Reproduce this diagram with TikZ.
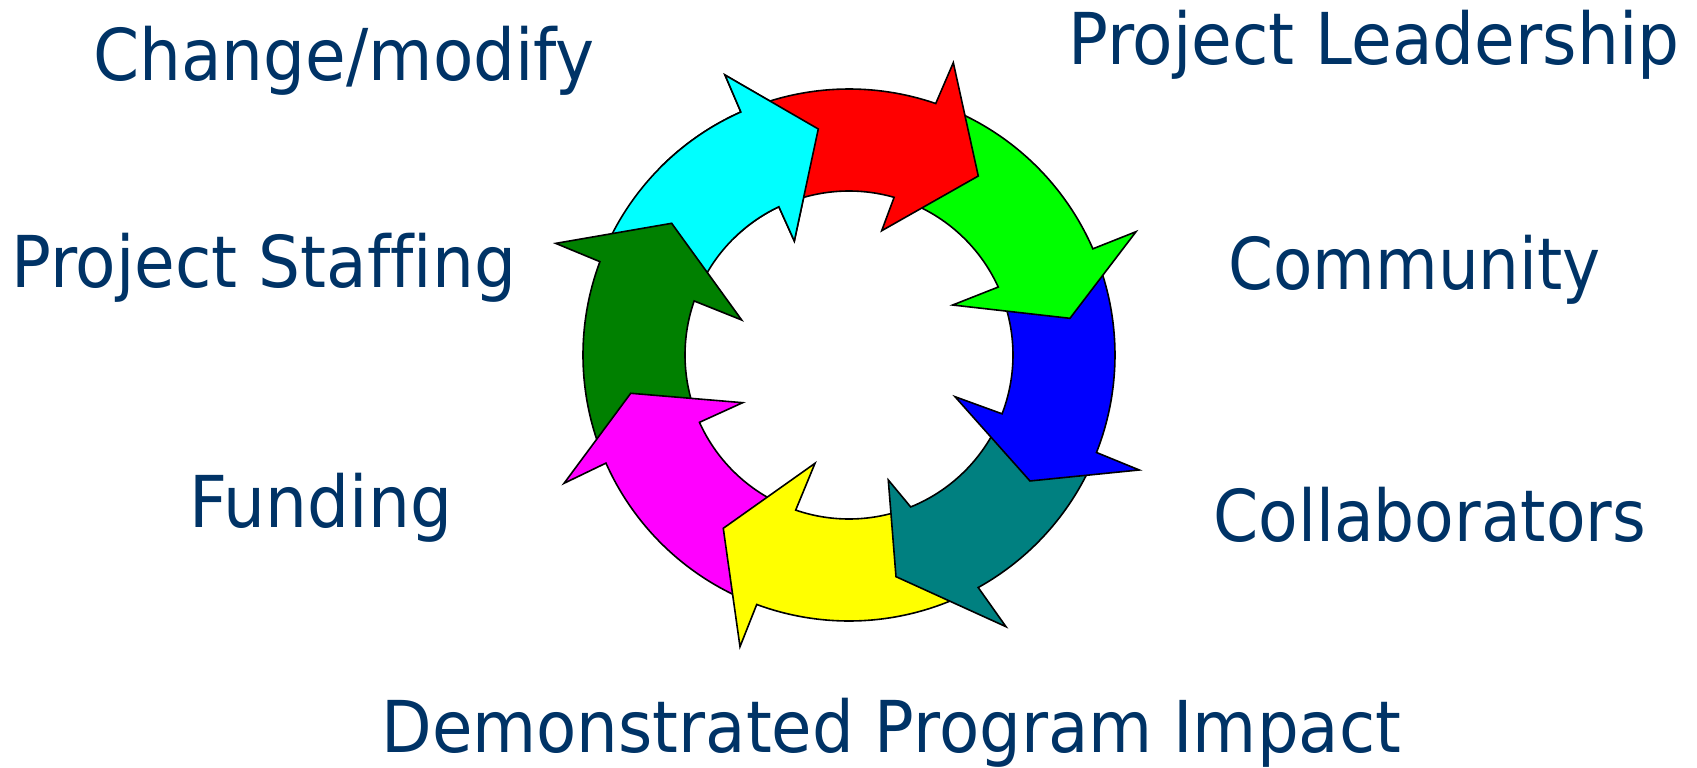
\documentclass[tikz,border=0pt]{standalone}
\usepackage{fontspec}
\setmainfont{DejaVu Sans}[Ligatures=NoCommon]
\usepackage{graphicx}
\usetikzlibrary{calc}

\definecolor{labelblue}{HTML}{003366}
\definecolor{arrred}{HTML}{FF0000}
\definecolor{arrgreen}{HTML}{00FF00}
\definecolor{arrblue}{HTML}{0000FF}
\definecolor{arrteal}{HTML}{008080}
\definecolor{arryellow}{HTML}{FFFF00}
\definecolor{arrmagenta}{HTML}{FF00FF}
\definecolor{arrdkgreen}{HTML}{008000}
\definecolor{arrcyan}{HTML}{00FFFF}

\def\ringout{266}
\def\ringin{164}

\tikzset{
  ringpart/.style={draw=black, line width=0.32mm, line join=miter},
  lbl/.style={anchor=base west, inner sep=0pt, text=labelblue,
    font=\fontsize{40.7pt}{48pt}\selectfont}
}

% colour, tail out/in, base out/in, outer barb, tip, inner barb
\newcommand{\ringarrow}[8]{%
  \draw[ringpart, fill=#1] (#2:\ringout)
    arc[start angle=#2, end angle=#4, radius=\ringout]
    -- (#6) -- (#7) -- (#8) -- (#5:\ringin)
    arc[start angle=#5, end angle=#3, radius=\ringin] -- cycle;}
\newcommand{\lbltext}[2][0.925]{\scalebox{#1}[1]{#2}}

\begin{document}
\begin{tikzpicture}[x=0.2mm, y=0.2mm]
  \useasboundingbox (-849,355) rectangle (848,-412);

  \ringarrow{arrcyan}{157.5}{158.8}{113.99}{115.32}{113.89:306.2}{97.74:228.1}{115.63:126.4}
  \ringarrow{arrdkgreen}{202.0}{202.2}{159.46}{160.76}{159.16:313.8}{143.4:220.9}{161.93:112.9}
  \ringarrow{arrmagenta}{-112.3}{-111.0}{-156.02}{-155.76}{-155.76:312.5}{-170.05:221.6}{-155.84:116.5}
  \ringarrow{arryellow}{-62.9}{-69.9}{-110.3}{-108.97}{-110.49:311.4}{-125.96:214.1}{-107.43:113.5}
  \ringarrow{arrteal}{-23.5}{-23.0}{-60.94}{-67.9}{-59.98:313.8}{-78.03:226.6}{-72.55:131}
  \ringarrow{arrblue}{21.5}{22.5}{-21.5}{-21.02}{-21.61:312.2}{-34.84:220.5}{-21.47:113.9}
  \ringarrow{arrgreen}{69.0}{72.0}{23.53}{24.48}{23.25:312.4}{9.43:224}{25.74:115.1}
  \ringarrow{arrred}{112.0}{113.3}{70.97}{74.03}{70.36:310.4}{54.16:220.8}{75.26:128.5}
  \begin{scope}
    \clip (0,0) -- (85:420) arc[start angle=85, end angle=135, radius=420] -- cycle;
    \ringarrow{arrcyan}{157.5}{158.8}{113.99}{115.32}{113.89:306.2}{97.74:228.1}{115.63:126.4}
  \end{scope}

  \node[lbl] (change) at (-756,275) {\lbltext[0.924]{Change/modify}};
  \node[lbl] (leader) at (219,291) {\lbltext{Project Leadership}};
  \node[lbl] (staff) at (-838,68) {\lbltext{Project Staffing}};
  \node[lbl] (commun) at (379,66) {\lbltext[0.9]{Community}};
  \node[lbl] (fund) at (-660,-172) {\lbltext{Funding}};
  \node[lbl] (collab) at (364,-186) {\lbltext[0.905]{Collaborators}};
  \node[lbl] (impact) at (-468,-397) {\lbltext[0.92]{Demonstrated Program Impact}};
\end{tikzpicture}
\end{document}
